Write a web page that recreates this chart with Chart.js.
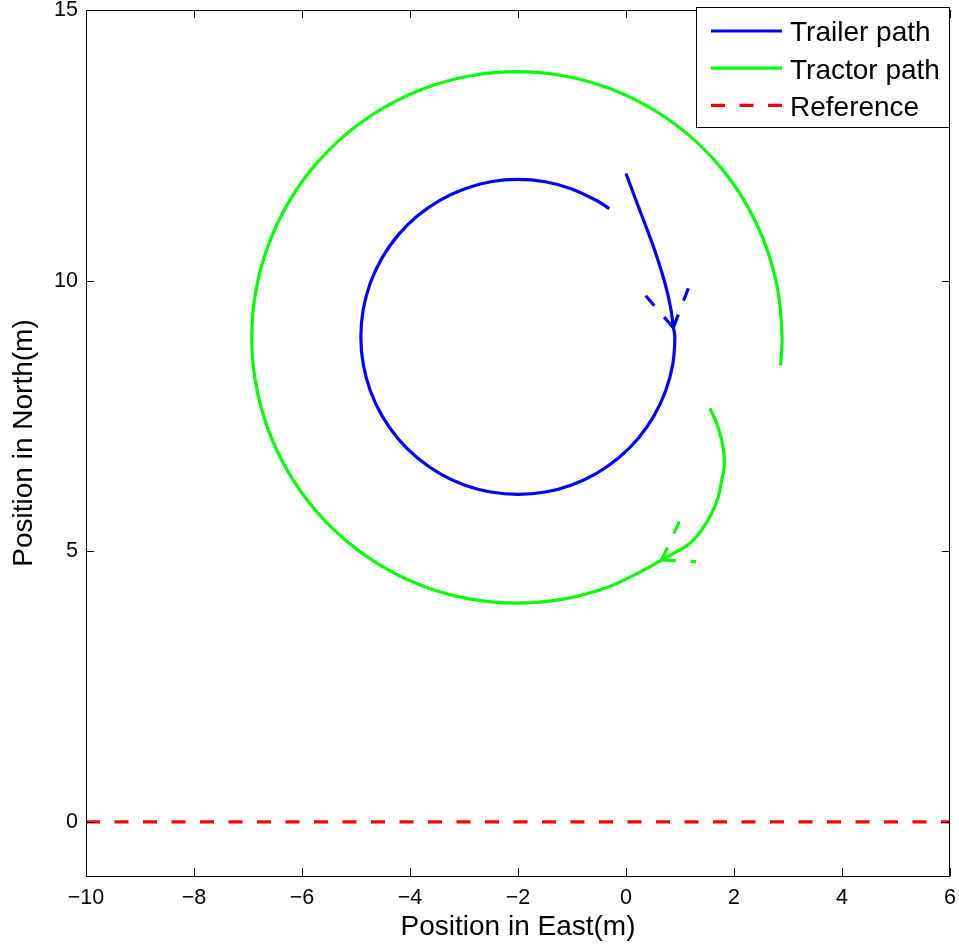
<!DOCTYPE html>
<html>
<head>
<meta charset="utf-8">
<script src="https://cdn.jsdelivr.net/npm/chart.js@4.4.1/dist/chart.umd.min.js"></script>
<style>
  html, body { margin: 0; padding: 0; background: #fff; }
  #wrap { width: 959px; height: 945px; }
</style>
</head>
<body>
<div id="wrap"><canvas id="chart" width="959" height="945"></canvas></div>
<script>
// =============================
// DATOS
// =============================
const xTicks = [-10, -8, -6, -4, -2, 0, 2, 4, 6];
const yTicks = [0, 5, 10, 15];

// trayectoria del remolque
const trailerX = [0, 0.194, 0.370, 0.528, 0.667, 0.769, 0.833, 0.876, 0.905, 0.866, 0.735, 0.520,
  0.229, -0.129, -0.545, -1.005, -1.495, -2, -2.505, -2.995, -3.455, -3.871, -4.229, -4.520,
  -4.735, -4.866, -4.91, -4.866, -4.735, -4.520, -4.229, -3.871, -3.455, -2.995, -2.505, -2,
  -1.495, -1.005, -0.545, -0.31];
const trailerY = [11.98, 11.46, 11.0, 10.57, 10.14, 9.77, 9.46, 9.15, 8.96, 8.455, 7.965, 7.505,
  7.089, 6.731, 6.440, 6.225, 6.094, 6.05, 6.094, 6.225, 6.440, 6.731, 7.089, 7.505,
  7.965, 8.455, 8.96, 9.465, 9.955, 10.415, 10.831, 11.189, 11.480, 11.695, 11.826, 11.87,
  11.826, 11.695, 11.480, 11.33];

// trayectoria del tractor
const tractorX = [1.556, 1.679, 1.772, 1.815, 1.818, 1.772, 1.709, 1.587, 1.402, 1.185, 0.939, 0.661,
  0.259, -0.341, -1.167, -2.02, -2.873, -3.699, -4.475, -5.176, -5.781, -6.272, -6.634, -6.855,
  -6.93, -6.855, -6.634, -6.272, -5.781, -5.176, -4.475, -3.699, -2.873, -2.02, -1.167, -0.341,
  0.435, 1.136, 1.741, 2.232, 2.594, 2.815, 2.89, 2.863];
const tractorY = [7.64, 7.364, 7.055, 6.79, 6.55, 6.316, 6.008, 5.701, 5.393, 5.147, 4.992, 4.838,
  4.615, 4.336, 4.115, 4.04, 4.115, 4.336, 4.698, 5.189, 5.794, 6.495, 7.271, 8.097,
  8.95, 9.803, 10.629, 11.405, 12.106, 12.711, 13.202, 13.564, 13.785, 13.86, 13.785, 13.564,
  13.202, 12.711, 12.106, 11.405, 10.629, 9.803, 8.95, 8.437];

// referencia
const refX = [-10, 6];
const refY = [0, 0];

// flechas: punta y extremos de cada aleta
const trailerTip = [0.876, 9.13];
const trailerBarbX = [0.365, 1.154];
const trailerBarbY = [9.72, 9.86];
const tractorTip = [0.661, 4.838];
const tractorBarbX = [0.987, 1.296];
const tractorBarbY = [5.546, 4.81];

// =============================
// ARMADO DE DATASETS
// =============================
const toPts = (xs, ys) => xs.map((v, i) => ({ x: v, y: ys[i] }));

const BLUE = "#0000ff";
const GREEN = "#00ff00";
const RED = "#ff0000";
const LW = 3.2;
const DASH = [14, 14.5];

// cada aleta se dibuja desde la punta hacia afuera (el trazo empieza en la punta)
function barbs(tip, xs, ys, color) {
  return xs.map((v, i) => ({
    data: [{ x: tip[0], y: tip[1] }, { x: v, y: ys[i] }],
    borderColor: color,
    borderWidth: LW,
    borderDash: [14, 15],
    showLine: true,
    pointRadius: 0,
  }));
}

const datasets = [
  {
    label: "Trailer path",
    inLegend: true,
    data: toPts(trailerX, trailerY),
    borderColor: BLUE,
    borderWidth: LW,
    showLine: true,
    pointRadius: 0,
    tension: 0.33,
  },
  {
    label: "Tractor path",
    inLegend: true,
    data: toPts(tractorX, tractorY),
    borderColor: GREEN,
    borderWidth: LW,
    showLine: true,
    pointRadius: 0,
    tension: 0.33,
  },
  {
    label: "Reference",
    inLegend: true,
    data: toPts(refX, refY),
    borderColor: RED,
    borderWidth: LW,
    borderDash: DASH,
    showLine: true,
    pointRadius: 0,
  },
  ...barbs(trailerTip, trailerBarbX, trailerBarbY, BLUE),
  ...barbs(tractorTip, tractorBarbX, tractorBarbY, GREEN),
];

// =============================
// CAJA, MARCAS INTERIORES Y LEYENDA
// =============================
const FONT = "'Liberation Sans', Arial, sans-serif";

const framePlugin = {
  id: "frame",
  afterDatasetsDraw(chart) {
    const { ctx, chartArea: a, scales } = chart;
    const sx = scales.x, sy = scales.y;
    const TL = 8;
    ctx.save();
    ctx.strokeStyle = "#000";
    ctx.lineWidth = 1;
    ctx.setLineDash([]);
    ctx.strokeRect(a.left + 0.5, a.top + 0.5, a.right - a.left - 1, a.bottom - a.top);

    ctx.beginPath();
    xTicks.forEach((v) => {
      const px = Math.round(sx.getPixelForValue(v)) + 0.5;
      ctx.moveTo(px, a.bottom); ctx.lineTo(px, a.bottom - TL);
      ctx.moveTo(px, a.top); ctx.lineTo(px, a.top + TL);
    });
    yTicks.forEach((v) => {
      const py = Math.round(sy.getPixelForValue(v)) + 0.5;
      ctx.moveTo(a.left, py); ctx.lineTo(a.left + TL, py);
      ctx.moveTo(a.right, py); ctx.lineTo(a.right - TL, py);
    });
    ctx.stroke();

    // leyenda (arriba a la derecha)
    const items = chart.data.datasets.filter((d) => d.inLegend);
    const bx = 696.5, by = 7.5, bw = 253, bh = 120;
    ctx.fillStyle = "#fff";
    ctx.fillRect(bx, by, bw, bh);
    ctx.strokeRect(bx, by, bw, bh);
    ctx.font = "28px " + FONT;
    ctx.textBaseline = "alphabetic";
    items.forEach((d, i) => {
      const ry = 31 + i * 37.2;
      ctx.strokeStyle = d.borderColor;
      ctx.lineWidth = LW;
      ctx.setLineDash(d.borderDash || []);
      ctx.beginPath();
      ctx.moveTo(711, ry);
      ctx.lineTo(782, ry);
      ctx.stroke();
      ctx.fillStyle = "#000";
      ctx.fillText(d.label, 790, ry + 10.3);
    });
    ctx.restore();
  },
};

// =============================
// GRÁFICO
// =============================
new Chart(document.getElementById("chart"), {
  type: "scatter",
  data: { datasets },
  plugins: [framePlugin],
  options: {
    responsive: false,
    animation: false,
    devicePixelRatio: 1,
    layout: { padding: { left: 0, right: 9, top: 10, bottom: 0 } },
    plugins: { legend: { display: false }, tooltip: { enabled: false } },
    scales: {
      x: {
        type: "linear",
        min: -10,
        max: 6,
        grid: { display: false, drawTicks: false },
        border: { display: false },
        afterBuildTicks: (s) => { s.ticks = xTicks.map((v) => ({ value: v })); },
        afterFit: (s) => {
          s.height = 69;
          s.paddingLeft = 0;
          s.paddingRight = 0;
        },
        ticks: {
          padding: 9,
          color: "#000",
          font: { family: FONT, size: 21.5 },
          callback: (v) => String(v).replace("-", "\u2212"),
        },
        title: {
          display: true,
          text: "Position in East(m)",
          color: "#000",
          font: { family: FONT, size: 28 },
          padding: { top: 0, bottom: 1 },
        },
      },
      y: {
        type: "linear",
        min: -1,
        max: 15,
        grid: { display: false, drawTicks: false },
        border: { display: false },
        afterBuildTicks: (s) => { s.ticks = yTicks.map((v) => ({ value: v })); },
        afterFit: (s) => {
          s.width = 86;
          s.paddingTop = 0;
          s.paddingBottom = 0;
        },
        ticks: {
          padding: 8,
          color: "#000",
          font: { family: FONT, size: 21.5 },
        },
        title: {
          display: true,
          text: "Position in North(m)",
          color: "#000",
          font: { family: FONT, size: 28 },
          padding: { top: 7, bottom: 0 },
        },
      },
    },
  },
});
</script>
</body>
</html>
